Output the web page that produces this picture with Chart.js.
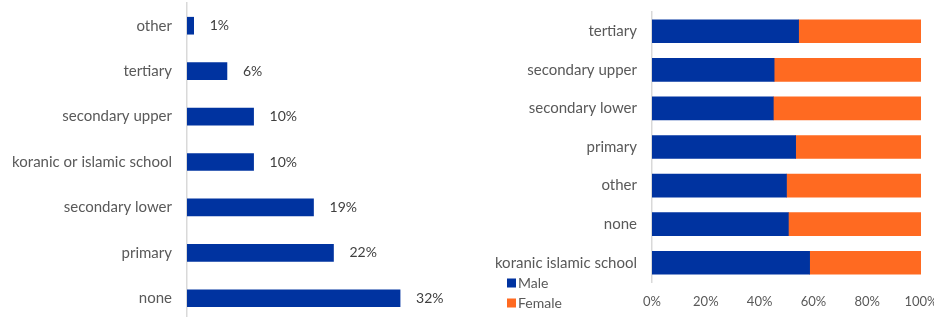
<!DOCTYPE html>
<html>
<head>
<meta charset="utf-8">
<script src="https://cdn.jsdelivr.net/npm/chart.js@4.4.1/dist/chart.umd.min.js"></script>
<style>
  body { margin: 0; background: #fff; }
  #wrap { position: relative; width: 934px; height: 317px; overflow: hidden; }
  #left { position: absolute; left: 0; top: 0; }
  #right { position: absolute; left: 480px; top: 0; }
</style>
</head>
<body>
<div id="wrap">
  <canvas id="left" width="460" height="321"></canvas>
  <canvas id="right" width="454" height="317"></canvas>
</div>
<script>
// education level share (left)
const eduLabels = ['other', 'tertiary', 'secondary upper', 'koranic or islamic school', 'secondary lower', 'primary', 'none'];
const eduShare = [1, 6, 10, 10, 19, 22, 32];

// split by sex (right)
const sexLabels = ['tertiary', 'secondary upper', 'secondary lower', 'primary', 'other', 'none', 'koranic islamic school'];
const maleShare = [54.5, 45.4, 45.1, 53.4, 50.0, 50.7, 58.6];
const femaleShare = [45.5, 54.6, 54.9, 46.6, 50.0, 49.3, 41.4];
const pctTicks = [0, 20, 40, 60, 80, 100];

const BLUE = '#0033a0';
const ORANGE = '#ff6a21';
const FONT = 'Lato';

Chart.defaults.font.family = FONT;
Chart.defaults.font.size = 13;
Chart.defaults.color = '#595959';

// value labels at the end of each bar
const barValueLabels = {
    id: 'barValueLabels',
    afterDatasetsDraw(chart) {
        const ctx = chart.ctx;
        const meta = chart.getDatasetMeta(0);
        ctx.save();
        ctx.font = '14px ' + FONT;
        ctx.fillStyle = '#404040';
        ctx.textBaseline = 'middle';
        ctx.textAlign = 'left';
        meta.data.forEach((bar, i) => {
            ctx.fillText(chart.data.datasets[0].data[i] + '%', bar.x + 16, bar.y);
        });
        ctx.restore();
    }
};

// small legend in the bottom left corner
const cornerLegend = {
    id: 'cornerLegend',
    afterDraw(chart) {
        const ctx = chart.ctx;
        ctx.save();
        ctx.font = '14px ' + FONT;
        ctx.textBaseline = 'middle';
        chart.data.datasets.forEach((ds, i) => {
            const y = 283 + i * 20;
            ctx.fillStyle = ds.backgroundColor;
            ctx.fillRect(27, y - 4.5, 9, 9);
            ctx.fillStyle = '#595959';
            ctx.fillText(ds.label, 38, y);
        });
        ctx.restore();
    }
};

// canvas is a little taller than the window; the bottom band is clipped like in the source
new Chart(document.getElementById('left'), {
    type: 'bar',
    data: {
        labels: eduLabels,
        datasets: [{
            data: eduShare,
            backgroundColor: BLUE,
            barThickness: 17
        }]
    },
    options: {
        indexAxis: 'y',
        responsive: false,
        animation: false,
        layout: { padding: { top: 3, right: 0, bottom: 0, left: 0 } },
        plugins: { legend: { display: false }, tooltip: { enabled: false } },
        scales: {
            x: { display: false, min: 0, max: 41 },
            y: {
                grid: { display: false, drawTicks: false },
                border: { display: true, color: '#d9d9d9', width: 1.5 },
                ticks: { padding: 15, color: '#595959', font: { size: 15 } },
                afterFit: (scale) => {
                    scale.width = 187;
                    scale.paddingTop = 0;
                    scale.paddingBottom = 0;
                }
            }
        }
    },
    plugins: [barValueLabels]
});

new Chart(document.getElementById('right'), {
    type: 'bar',
    data: {
        labels: sexLabels,
        datasets: [
            { label: 'Male', data: maleShare, backgroundColor: BLUE, barThickness: 23 },
            { label: 'Female', data: femaleShare, backgroundColor: ORANGE, barThickness: 23 }
        ]
    },
    options: {
        indexAxis: 'y',
        responsive: false,
        animation: false,
        layout: { padding: { top: 12, right: 13, bottom: 0, left: 0 } },
        plugins: { legend: { display: false }, tooltip: { enabled: false } },
        scales: {
            x: {
                stacked: true,
                min: 0,
                max: 100,
                afterBuildTicks: (scale) => { scale.ticks = pctTicks.map(v => ({ value: v })); },
                grid: { display: false, drawTicks: false },
                border: { display: false },
                ticks: { padding: 12, callback: (v) => v + '%', maxRotation: 0 },
                afterFit: (scale) => { scale.height = 35; scale.paddingRight = 0; scale.paddingLeft = 0; }
            },
            y: {
                stacked: true,
                grid: { display: false, drawTicks: false },
                border: { display: true, color: '#d9d9d9', width: 1.5 },
                ticks: { padding: 15, font: { size: 15 } },
                afterFit: (scale) => {
                    scale.width = 172;
                    scale.paddingTop = 0;
                    scale.paddingBottom = 0;
                }
            }
        }
    },
    plugins: [cornerLegend]
});
</script>
</body>
</html>
